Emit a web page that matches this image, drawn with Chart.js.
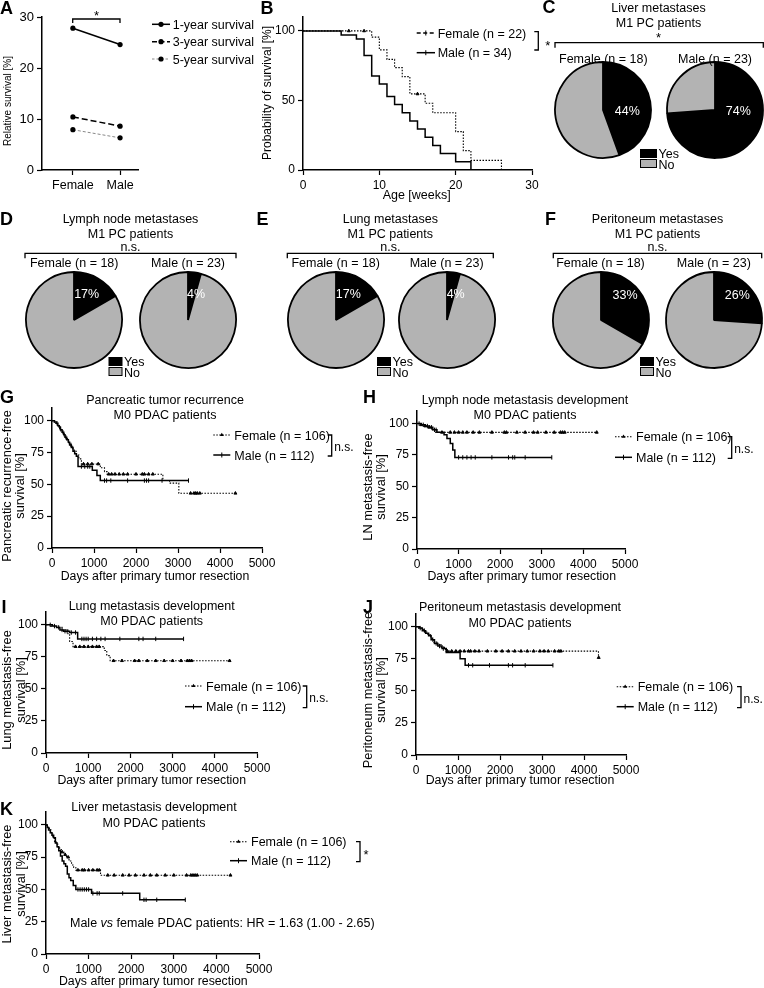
<!DOCTYPE html>
<html>
<head>
<meta charset="utf-8">
<script src="https://cdn.jsdelivr.net/npm/chart.js@4.4.1/dist/chart.umd.min.js"></script>
<style>
  body { margin: 0; background: #fff; }
  #fig { position: relative; width: 764px; height: 988px; overflow: hidden; }
  #fig canvas { position: absolute; }
  #ann { position: absolute; left: 0; top: 0; z-index: 2; }
</style>
</head>
<body>
<div id="fig"><svg id="ann" width="764" height="988"></svg></div>
<script>
// ---- A: relative survival by sex
const aGroups = ['Female', 'Male'];
const aOneYear = [27.8, 24.6];
const aThreeYear = [10.4, 8.6];
const aFiveYear = [7.9, 6.3];

// ---- B: survival in weeks
const bFemaleWeeks = [9, 10, 11, 12, 13, 14, 16, 17, 20, 21, 22, 26];
const bFemaleSurv = [95.5, 86.4, 79.5, 73.6, 67.1, 54.7, 48.0, 41.2, 27.6, 13.9, 6.9, 0];
const bFemaleCens = [6, 8, 15];
const bFemaleEnd = 26;
const bMaleWeeks = [5, 7, 8, 9, 10, 11, 12, 13, 14, 15, 16, 17, 18, 20, 22];
const bMaleSurv = [97.1, 94.1, 82.4, 67.6, 61.8, 52.9, 47.1, 41.2, 35.3, 29.4, 23.5, 17.6, 11.8, 5.9, 0];
const bMaleCens = [];
const bMaleEnd = 22;

// ---- C-F: metastases in M1 patients, counts [yes, no]
const pieLabels = ['Yes', 'No'];
const liverFemale = [8, 10], liverMale = [17, 6];
const lymphFemale = [3, 15], lymphMale = [1, 22];
const lungFemale = [3, 15], lungMale = [1, 22];
const peritFemale = [6, 12], peritMale = [6, 17];

// ---- G: pancreatic recurrence
const gFemaleDays = [50, 90, 130, 170, 210, 250, 290, 330, 370, 410, 450, 490, 530, 580, 640, 700, 1150, 1250, 1310, 2640, 2800, 3020];
const gFemaleSurv = [99, 98, 96, 94, 92, 90, 88, 86, 84, 82, 80, 78, 76, 73, 70, 66, 63, 60, 58, 53, 51, 43];
const gFemaleCens = [750, 850, 950, 1100, 1350, 1420, 1500, 1600, 1700, 1800, 2000, 2150, 2200, 2300, 2400, 3300, 3380, 3420, 3460, 3520, 4367];
const gFemaleEnd = 4367;
const gMaleDays = [60, 100, 140, 170, 200, 240, 280, 310, 350, 390, 420, 460, 500, 540, 580, 620, 960, 1070, 1150];
const gMaleSurv = [99, 98, 96, 95, 93, 91, 89, 87, 85, 83, 81, 79, 76, 74, 72, 64, 61, 57, 53];
const gMaleCens = [120, 180, 260, 330, 450, 700, 780, 850, 900, 1250, 1300, 1400, 1800, 2200, 2250, 2300, 2620, 3250];
const gMaleEnd = 3250;

// ---- H: lymph node metastasis
const hFemaleDays = [80, 150, 250, 350, 450];
const hFemaleSurv = [99, 98, 97, 95, 93];
const hFemaleCens = [100, 200, 300, 600, 800, 900, 1000, 1100, 1200, 1350, 1500, 1800, 2100, 2150, 2400, 2600, 2800, 2900, 3100, 3300, 3450, 3500, 3550, 4320];
const hFemaleEnd = 4320;
const hMaleDays = [100, 200, 300, 380, 480, 650, 720, 800, 860, 910];
const hMaleSurv = [99, 98, 97, 95, 93, 91, 88, 84, 79, 73];
const hMaleCens = [50, 150, 250, 350, 420, 460, 1000, 1100, 1200, 1300, 1400, 1800, 2200, 2300, 2350, 2600, 3240];
const hMaleEnd = 3240;

// ---- I: lung metastasis
const iFemaleDays = [120, 250, 380, 520, 560, 640, 1380, 1440, 1520];
const iFemaleSurv = [99, 98, 96, 93, 87, 83, 80, 76, 72];
const iFemaleCens = [700, 800, 900, 1000, 1100, 1200, 1260, 1600, 1800, 2100, 2200, 2400, 2600, 2800, 3000, 3200, 3350, 3400, 3450, 4350];
const iFemaleEnd = 4350;
const iMaleDays = [150, 250, 330, 420, 560, 750];
const iMaleSurv = [99, 98, 96, 95, 94, 89];
const iMaleCens = [100, 200, 300, 380, 450, 500, 600, 700, 850, 900, 950, 1000, 1100, 1200, 1300, 1400, 1750, 2200, 2300, 2600, 3260];
const iMaleEnd = 3260;

// ---- J: peritoneum metastasis
const jFemaleDays = [60, 120, 200, 280, 350, 420, 500, 600, 700, 4345];
const jFemaleSurv = [99, 98, 96, 94, 91, 88, 86, 84, 81, 76];
const jFemaleCens = [750, 850, 950, 1050, 1150, 1250, 1300, 1400, 1500, 1700, 1900, 2050, 2200, 2350, 2500, 2650, 2800, 2950, 3050, 3150, 3300, 3400, 3450, 4350];
const jFemaleEnd = 4350;
const jMaleDays = [80, 150, 230, 300, 360, 440, 520, 620, 720, 1050, 1170];
const jMaleSurv = [99, 97, 95, 93, 90, 87, 85, 83, 80, 75, 70];
const jMaleCens = [100, 200, 400, 480, 560, 650, 1250, 1350, 1750, 2200, 2300, 2600, 3260];
const jMaleEnd = 3260;

// ---- K: liver metastasis
const kFemaleDays = [40, 80, 120, 160, 200, 240, 280, 320, 360, 420, 480, 540, 600, 650, 700, 1280];
const kFemaleSurv = [98, 96, 93, 90, 87, 85, 83, 81, 79, 77, 75, 72, 69, 67, 65, 61];
const kFemaleCens = [380, 450, 520, 750, 850, 900, 1000, 1100, 1200, 1250, 1450, 1600, 1800, 1950, 2100, 2300, 2450, 2600, 2800, 3000, 3300, 3400, 3450, 3500, 3550, 4330];
const kFemaleEnd = 4330;
const kMaleDays = [30, 60, 100, 140, 180, 220, 260, 300, 340, 380, 420, 460, 500, 540, 580, 640, 700, 1070, 2200];
const kMaleSurv = [98, 96, 94, 92, 90, 86, 83, 80, 76, 72, 70, 68, 62, 59, 57, 53, 50, 47, 42];
const kMaleCens = [750, 800, 850, 900, 950, 1000, 1100, 1200, 1250, 1800, 2300, 2350, 2600, 3270];
const kMaleEnd = 3270;

const FONT = "'Liberation Sans', Arial, Helvetica, sans-serif";
Chart.defaults.font.family = FONT;
Chart.defaults.color = '#000';

const fig = document.getElementById('fig');
const svg = document.getElementById('ann');
const NS = 'http://www.w3.org/2000/svg';

function el(tag, attrs) {
  const e = document.createElementNS(NS, tag);
  for (const k in attrs) e.setAttribute(k, attrs[k]);
  svg.appendChild(e);
  return e;
}
// cy is the visual centre of capitals
function text(x, cy, s, o = {}) {
  const size = o.size || 12.5;
  const e = el('text', {
    x: x, y: cy + size * 0.36, 'font-size': size, 'font-family': FONT,
    'text-anchor': o.anchor || 'start', fill: o.fill || '#000', 'font-weight': o.weight || 'normal'
  });
  e.textContent = s;
  return e;
}
function vtext(cx, cy, s, size) {
  const e = el('text', {
    x: 0, y: 0, transform: `translate(${cx + size * 0.36},${cy}) rotate(-90)`,
    'font-size': size, 'font-family': FONT, 'text-anchor': 'middle', fill: '#000'
  });
  e.textContent = s;
}
function star(x, cy, size = 13) { text(x, cy + size * 0.2, '*', {anchor: 'middle', size}); }
function line(x1, y1, x2, y2, o = {}) {
  el('line', {x1, y1, x2, y2, stroke: o.color || '#000', 'stroke-width': o.w || 1.3,
    'stroke-dasharray': o.dash || 'none'});
}
function topBracket(x1, x2, y, t = 5) {
  el('path', {d: `M${x1} ${y + t} V${y} H${x2} V${y + t}`, fill: 'none', stroke: '#000', 'stroke-width': 1.3});
}
function rightBracket(x, y1, y2, t = 4) {
  el('path', {d: `M${x - t} ${y1} H${x} V${y2} H${x - t}`, fill: 'none', stroke: '#000', 'stroke-width': 1.3});
}
function letter(x, cy, s) { text(x, cy, s, {size: 18, weight: 'bold'}); }

function addCanvas(left, top, w, h) {
  const c = document.createElement('canvas');
  c.width = Math.round(w); c.height = Math.round(h);
  c.style.left = Math.round(left) + 'px';
  c.style.top = Math.round(top) + 'px';
  c.style.width = c.width + 'px';
  c.style.height = c.height + 'px';
  fig.appendChild(c);
  return c;
}

function axis(min, max, step, o = {}) {
  return {
    type: 'linear', min, max,
    ticks: {stepSize: step, color: '#000', font: {size: o.font || 12}, padding: 3, maxRotation: 0, autoSkip: false,
      callback: o.labels ? (v => o.labels[v]) : undefined},
    grid: {display: true, drawOnChartArea: false, drawTicks: true, tickLength: 5, tickColor: '#000', tickWidth: 1.2},
    border: {display: true, color: '#000', width: 1.5},
    afterBuildTicks: s => {
      if (o.only) { s.ticks = o.only.map(v => ({value: v})); return; }
      const top = o.limit != null ? o.limit : max;
      const list = [];
      for (let v = min; v <= top + 1e-9; v += step) list.push({value: v});
      s.ticks = list;
    },
    afterFit: s => { if (o.w) s.width = o.w; if (o.h) s.height = o.h; }
  };
}
function lineOptions(scales, pad) {
  return {
    responsive: false, animation: false, devicePixelRatio: 1, events: [],
    layout: {padding: pad},
    plugins: {legend: {display: false}, tooltip: {enabled: false}},
    scales
  };
}

// value of a step (KM) curve at time t
function stepAt(times, surv, t) {
  let v = 100;
  times.forEach((d, i) => { if (d <= t) v = surv[i]; });
  return v;
}
function curve(times, surv, end, dash, width) {
  const pts = [{x: 0, y: 100}].concat(times.map((t, i) => ({x: t, y: surv[i]})));
  pts.push({x: end, y: surv[surv.length - 1]});
  return {data: pts, stepped: true, borderColor: '#000', borderWidth: width, borderDash: dash,
    pointRadius: 0, fill: false};
}
function marks(times, surv, cens, style, radius) {
  return {data: cens.map(t => ({x: t, y: stepAt(times, surv, t)})), showLine: false,
    pointStyle: style, pointRadius: radius, pointRotation: style === 'line' ? 90 : 0,
    pointBorderColor: '#000', pointBackgroundColor: '#000', pointBorderWidth: 1};
}

function kmChart(ax, f, m) {
  const L = 34, T = 12, R = 18, B = 24;
  const cv = addCanvas(ax.x - L, ax.top - T, ax.right - ax.x + L + R, ax.bottom - ax.top + T + B);
  new Chart(cv, {
    type: 'line',
    data: {datasets: [
      curve(f.t, f.s, f.end, [1.5, 1.5], 1.1),
      curve(m.t, m.s, m.end, [], 1.5),
      marks(f.t, f.s, f.c, 'triangle', 1.7),
      marks(m.t, m.s, m.c, 'line', 2.2)
    ]},
    options: lineOptions({
      x: axis(0, ax.xmax || 5000, ax.xstep || 1000, {h: B}),
      y: axis(0, 110, ax.ystep || 25, {w: L, limit: 100})
    }, {top: T, right: R, left: 0, bottom: 0})
  });
}

function pie(cx, cy, counts) {
  const size = 104;
  const cv = addCanvas(cx - size / 2, cy - size / 2, size, size);
  new Chart(cv, {
    type: 'pie',
    data: {labels: pieLabels, datasets: [{data: counts, backgroundColor: ['#000', '#b3b3b3'],
      borderColor: '#000', borderWidth: 1.8, hoverOffset: 0, offset: 0}]},
    options: {responsive: false, animation: false, devicePixelRatio: 1, events: [], radius: 48,
      plugins: {legend: {display: false}, tooltip: {enabled: false}}}
  });
}
function pct(counts) { return Math.round(counts[0] / (counts[0] + counts[1]) * 100) + '%'; }

function piePanel(p) {
  text(p.cx, p.ty, p.title, {anchor: 'middle'});
  text(p.cx, p.ty + 15, 'M1 PC patients', {anchor: 'middle'});
  if (p.sig === '*') star(p.cx, p.ty + 27.5); else text(p.cx, p.ty + 28.5, p.sig, {anchor: 'middle'});
  topBracket(p.bx1, p.bx2, p.ty + 35);
  text(p.fx, p.ly, 'Female (n = ' + (p.f[0] + p.f[1]) + ')', {anchor: 'middle'});
  text(p.mx, p.ly, 'Male (n = ' + (p.m[0] + p.m[1]) + ')', {anchor: 'middle'});
  pie(p.fx, p.py, p.f);
  pie(p.mx, p.py, p.m);
  text(p.fx + p.fo[0], p.py + p.fo[1], pct(p.f), {anchor: 'middle', fill: '#fff'});
  text(p.mx + p.mo[0], p.py + p.mo[1], pct(p.m), {anchor: 'middle', fill: '#fff'});
  el('rect', {x: p.lx, y: p.lyy, width: p.lw, height: 9, fill: '#000'});
  el('rect', {x: p.lx + 0.5, y: p.lyy + 10.5, width: p.lw - 1, height: 8, fill: '#b3b3b3', stroke: '#000', 'stroke-width': 1});
  text(p.lx + p.lw + 1.5, p.lyy + 4.5, pieLabels[0], {size: 12.5});
  text(p.lx + p.lw + 1.5, p.lyy + 15, pieLabels[1], {size: 12.5});
}

function kmLegend(x, yf, ym, bx, sig) {
  line(x, yf, x + 17, yf, {w: 1.1, dash: '1.5 1.5'});
  el('path', {d: `M${x + 8.5} ${yf - 2.2} L${x + 10.5} ${yf + 1} L${x + 6.5} ${yf + 1} Z`, fill: '#000'});
  line(x, ym, x + 17, ym, {w: 1.5});
  line(x + 8.5, ym - 2.5, x + 8.5, ym + 2.5, {w: 1});
  text(x + 21, yf, 'Female (n = 106)');
  text(x + 21, ym, 'Male (n = 112)');
  rightBracket(bx, yf, ym + 1);
  if (sig === '*') star(bx + 6, (yf + ym) / 2 + 1);
  else text(bx + 2.5, (yf + ym) / 2 + 1.5, sig, {size: 12});
}

function kmTitles(cx, ty, title, ycx, ycy, ylab, xcx, xcy) {
  text(cx, ty, title, {anchor: 'middle'});
  text(cx, ty + 15.5, 'M0 PDAC patients', {anchor: 'middle'});
  vtext(ycx, ycy, ylab, 12.8);
  vtext(ycx + 13.5, ycy, 'survival [%]', 12.8);
  text(xcx, xcy, 'Days after primary tumor resection', {anchor: 'middle', size: 12.3});
}

// ================= A
{
  const ax = {x: 41.7, right: 138, top: 16.7, bottom: 170};
  const L = 30, T = 12, R = 10, B = 24;
  const cv = addCanvas(ax.x - L, ax.top - T, ax.right - ax.x + L + R, ax.bottom - ax.top + T + B);
  const ds = (vals, dash, color, w) => ({
    data: vals.map((v, i) => ({x: i, y: v})), borderColor: color, borderWidth: w, borderDash: dash,
    pointRadius: 2.6, pointBackgroundColor: '#000', pointBorderColor: '#000', pointBorderWidth: 0, fill: false
  });
  new Chart(cv, {
    type: 'line',
    data: {datasets: [ds(aOneYear, [], '#000', 1.5), ds(aThreeYear, [6, 3], '#000', 1.5), ds(aFiveYear, [3, 2], '#888', 1)]},
    options: lineOptions({
      x: axis(-0.655, 1.38, 1, {h: B, only: [0, 1], labels: aGroups, font: 12.5}),
      y: axis(0, 30, 10, {w: L, font: 13})
    }, {top: T, right: R, left: 0, bottom: 0})
  });
  letter(0, 7.5, 'A');
  vtext(7, 101, 'Relative survival [%]', 10);
  topBracket(72.7, 120, 19, 4);
  star(96.5, 12.5);
  const rows = [['1-year survival', 24.3, 'none', '#000', 1.5], ['3-year survival', 41.7, '5 2.5', '#000', 1.5], ['5-year survival', 59, '2.5 2', '#888', 1]];
  rows.forEach(r => {
    line(152, r[1], 170, r[1], {w: r[4], dash: r[2], color: r[3]});
    el('circle', {cx: 161, cy: r[1], r: 2.6, fill: '#000'});
    text(172.7, r[1], r[0]);
  });
}

// ================= B
kmChart({x: 302.7, right: 532, top: 17.1, bottom: 170, xmax: 30, xstep: 10, ystep: 50},
  {t: bFemaleWeeks, s: bFemaleSurv, c: bFemaleCens, end: bFemaleEnd},
  {t: bMaleWeeks, s: bMaleSurv, c: bMaleCens, end: bMaleEnd});
letter(260.5, 7.5, 'B');
vtext(267, 93, 'Probability of survival [%]', 12);
text(416.7, 194.3, 'Age [weeks]', {anchor: 'middle'});
line(416.7, 33, 435, 33, {w: 1.3, dash: '4 2.5'});
line(425.8, 30.5, 425.8, 35.5, {w: 1});
line(416.7, 52.7, 435, 52.7, {w: 1.5});
line(425.8, 50.2, 425.8, 55.2, {w: 1});
text(437.7, 33, 'Female (n = ' + 22 + ')');
text(437.7, 52.7, 'Male (n = ' + 34 + ')');
rightBracket(538.3, 31.7, 50);
star(547.7, 43);

// ================= C - F
letter(542.5, 6.5, 'C');
piePanel({title: 'Liver metastases', sig: '*', cx: 658.5, ty: 7.7, bx1: 555, bx2: 763.3, ly: 58,
  fx: 603.3, mx: 715, py: 110, f: liverFemale, m: liverMale, fo: [24, 0.5], mo: [23.3, 0.5],
  lx: 640, lyy: 149, lw: 17});
letter(0, 218.5, 'D');
piePanel({title: 'Lymph node metastases', sig: 'n.s.', cx: 130.5, ty: 218.3, bx1: 25, bx2: 236, ly: 262.7,
  fx: 74.2, mx: 188, py: 319.7, f: lymphFemale, m: lymphMale, fo: [12.5, -26.4], mo: [8, -26.4],
  lx: 108.5, lyy: 357, lw: 14});
letter(256.5, 218.5, 'E');
piePanel({title: 'Lung metastases', sig: 'n.s.', cx: 390.3, ty: 218.3, bx1: 287.3, bx2: 493.3, ly: 262.7,
  fx: 335.7, mx: 446.7, py: 319.7, f: lungFemale, m: lungMale, fo: [12.6, -26.4], mo: [9, -26.4],
  lx: 377, lyy: 357, lw: 14});
letter(545, 218.5, 'F');
piePanel({title: 'Peritoneum metastases', sig: 'n.s.', cx: 657.5, ty: 218.3, bx1: 553.3, bx2: 761.7, ly: 262.7,
  fx: 600.5, mx: 713.8, py: 319.7, f: peritFemale, m: peritMale, fo: [24.5, -25.4], mo: [23.5, -25.4],
  lx: 640, lyy: 357, lw: 14});

// ================= G
kmChart({x: 51.7, right: 261.7, top: 408.3, bottom: 548.3},
  {t: gFemaleDays, s: gFemaleSurv, c: gFemaleCens, end: gFemaleEnd},
  {t: gMaleDays, s: gMaleSurv, c: gMaleCens, end: gMaleEnd});
letter(0, 396.7, 'G');
kmTitles(165, 399.3, 'Pancreatic tumor recurrence', 6, 486, 'Pancreatic recurrence-free', 155, 576);
kmLegend(213.3, 435, 455, 331.7, 'n.s.');

// ================= H
kmChart({x: 417.3, right: 625, top: 410.5, bottom: 548.3},
  {t: hFemaleDays, s: hFemaleSurv, c: hFemaleCens, end: hFemaleEnd},
  {t: hMaleDays, s: hMaleSurv, c: hMaleCens, end: hMaleEnd});
letter(363, 396.7, 'H');
kmTitles(525, 399.3, 'Lymph node metastasis development', 367, 487, 'LN metastasis-free', 521.7, 576);
kmLegend(615, 436.7, 457.3, 731.7, 'n.s.');

// ================= I
kmChart({x: 45.7, right: 256.7, top: 612, bottom: 753.3},
  {t: iFemaleDays, s: iFemaleSurv, c: iFemaleCens, end: iFemaleEnd},
  {t: iMaleDays, s: iMaleSurv, c: iMaleCens, end: iMaleEnd});
letter(1.5, 606.7, 'I');
kmTitles(151.7, 605, 'Lung metastasis development', 6.7, 690, 'Lung metastasis-free', 151.7, 780);
kmLegend(185, 686, 706.7, 306.7, 'n.s.');

// ================= J
kmChart({x: 416, right: 625.7, top: 614, bottom: 755},
  {t: jFemaleDays, s: jFemaleSurv, c: jFemaleCens, end: jFemaleEnd},
  {t: jMaleDays, s: jMaleSurv, c: jMaleCens, end: jMaleEnd});
letter(363, 606.7, 'J');
kmTitles(520, 606.7, 'Peritoneum metastasis development', 367, 690, 'Peritoneum metastasis-free', 520, 780);
kmLegend(616.7, 686.7, 706.7, 741, 'n.s.');

// ================= K
kmChart({x: 45.7, right: 258.3, top: 812, bottom: 954},
  {t: kFemaleDays, s: kFemaleSurv, c: kFemaleCens, end: kFemaleEnd},
  {t: kMaleDays, s: kMaleSurv, c: kMaleCens, end: kMaleEnd});
letter(0, 808.3, 'K');
kmTitles(154, 806.7, 'Liver metastasis development', 6.7, 884, 'Liver metastasis-free', 153.3, 980.7);
kmLegend(230, 841.7, 860.7, 360, '*');
{
  const t = text(70, 922.7, 'Male ');
  const it = document.createElementNS(NS, 'tspan');
  it.setAttribute('font-style', 'italic'); it.textContent = 'vs';
  t.appendChild(it);
  t.appendChild(document.createTextNode(' female PDAC patients: HR = 1.63 (1.00 - 2.65)'));
}
</script>
</body>
</html>
